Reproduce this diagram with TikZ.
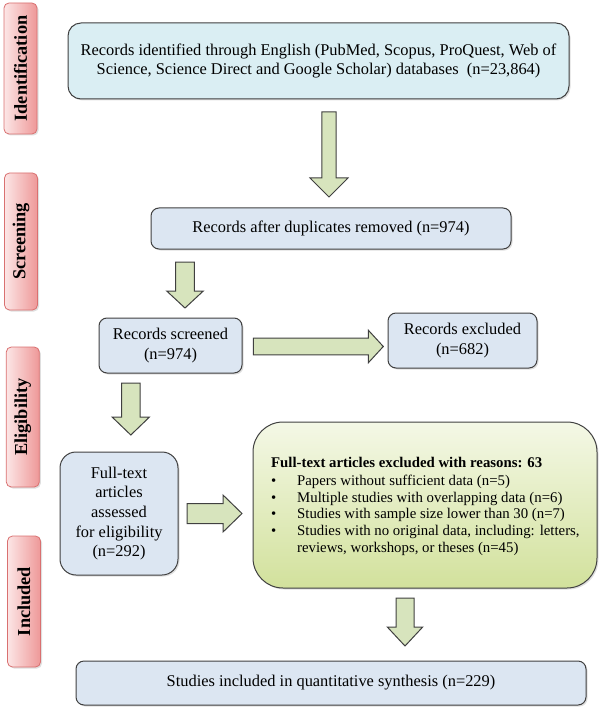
\documentclass[tikz,border=0pt]{standalone}
\usepackage{fontspec}
\setmainfont{Liberation Serif}
\usetikzlibrary{shadows}
\definecolor{aquafill}{HTML}{DAEEF3}
\definecolor{bluefill}{HTML}{DCE6F2}
\definecolor{arrowfill}{HTML}{D7E4BD}
\definecolor{edgec}{HTML}{404040}
\definecolor{pinkL}{HTML}{FCE6E6}
\definecolor{pinkR}{HTML}{EE9898}
\definecolor{pinkE}{HTML}{D97070}
\definecolor{greenT}{HTML}{F4F8E6}
\definecolor{greenB}{HTML}{D2E19C}
\newcommand{\vblk}[6]{% cx, ytop, yhead, ytip, shaft half, head half
  \draw[blkarrow] ({#1-#5},#2) -- ({#1+#5},#2) -- ({#1+#5},#3) -- ({#1+#6},#3) -- (#1,#4) -- ({#1-#6},#3) -- ({#1-#5},#3) -- cycle;}
\newcommand{\hblk}[6]{% cy, xleft, xhead, xtip, shaft half, head half
  \draw[blkarrow] (#2,{#1-#5}) -- (#3,{#1-#5}) -- (#3,{#1-#6}) -- (#4,#1) -- (#3,{#1+#6}) -- (#3,{#1+#5}) -- (#2,{#1+#5}) -- cycle;}
\tikzset{
  shad/.style={drop shadow={shadow xshift=1.5pt, shadow yshift=-1.5pt, opacity=0.25}},
  box/.style={draw=edgec, line width=1pt, rounded corners=8pt, fill=bluefill, align=center,
    font=\fontsize{16.4}{19.7}\selectfont, inner sep=0pt, shad},
  sidebox/.style={draw=pinkE, line width=0.8pt, rounded corners=5pt, left color=pinkL, right color=pinkR,
    minimum width=33pt, inner sep=0pt, shad},
  sidetext/.style={rotate=90, font=\fontsize{18.3}{20}\selectfont\bfseries, inner sep=0pt},
  blkarrow/.style={draw=edgec, line width=1pt, fill=arrowfill, line join=miter},
  gline/.style={anchor=base west, inner sep=0pt, font=\fontsize{14.8}{17}\selectfont},
}
\begin{document}
\begin{tikzpicture}[x=1pt,y=-1pt]
\useasboundingbox (0,0) rectangle (600,711);
% side labels
\node[sidebox, minimum height=131pt] (idbox) at (20.5,68.5) {};
\node[sidetext] (idtext) at (idbox) {Identification};
\node[sidebox, minimum height=137pt] (scbox) at (21,241.5) {};
\node[sidetext] (sctext) at (scbox) {Screening};
\node[sidebox, minimum height=140pt] (elbox) at (22.8,417) {};
\node[sidetext] (eltext) at (elbox) {Eligibility};
\node[sidebox, minimum height=131pt] (inbox) at (24,601.5) {};
\node[sidetext] (intext) at (inbox) {Included};
% boxes
\node[box, fill=aquafill, rounded corners=13pt, minimum width=501pt, minimum height=76pt] (top) at (318.5,61)
  {Records identified through English (PubMed, Scopus, ProQuest, Web of\\Science, Science Direct and Google Scholar) databases~~(n=23,864)};
\node[box, minimum width=360pt, minimum height=41pt] (dup) at (331,228.5) {Records after duplicates removed (n=974)};
\node[box, minimum width=143pt, minimum height=55pt] (scr) at (170.5,345.5) {Records screened\\(n=974)};
\node[box, minimum width=149pt, minimum height=55pt] (exc) at (462.5,340.5) {Records excluded\\(n=682)};
\node[box, rounded corners=16pt, minimum width=118pt, minimum height=123pt] (full) at (119,513.5)
  {Full-text\\articles\\assessed\\for eligibility\\(n=292)};
\node[box, rounded corners=30pt, top color=greenT, bottom color=greenB, minimum width=344pt, minimum height=166pt] (green) at (425,505) {};
\node[box, minimum width=510pt, minimum height=44pt] (final) at (331,683) {Studies included in quantitative synthesis (n=229)};
% green box text
\node[gline, font=\fontsize{14.8}{17}\selectfont\bfseries] (g0) at (271,467) {Full-text articles excluded with reasons: 63};
\node[gline] (g1) at (271,485.5) {\makebox[26pt][l]{\textbullet}Papers without sufficient data (n=5)};
\node[gline] (g2) at (271,502) {\makebox[26pt][l]{\textbullet}Multiple studies with overlapping data (n=6)};
\node[gline] (g3) at (271,518.5) {\makebox[26pt][l]{\textbullet}Studies with sample size lower than 30 (n=7)};
\node[gline] (g4) at (271,535.5) {\makebox[26pt][l]{\textbullet}Studies with no original data, including: letters,};
\node[gline] (g5) at (297,552) {reviews, workshops, or theses (n=45)};
% block arrows
\vblk{329}{112}{178}{197}{7.2}{19}
\vblk{185}{262}{291}{308}{9.3}{18.3}
\vblk{130.8}{383}{417}{435}{9.2}{18.7}
\vblk{405}{598}{627}{646}{9}{17.7}
\hblk{346.5}{253.3}{368.3}{383.3}{8.3}{16.3}
\hblk{513.5}{187}{223}{242}{10}{18.5}
\end{tikzpicture}
\end{document}
